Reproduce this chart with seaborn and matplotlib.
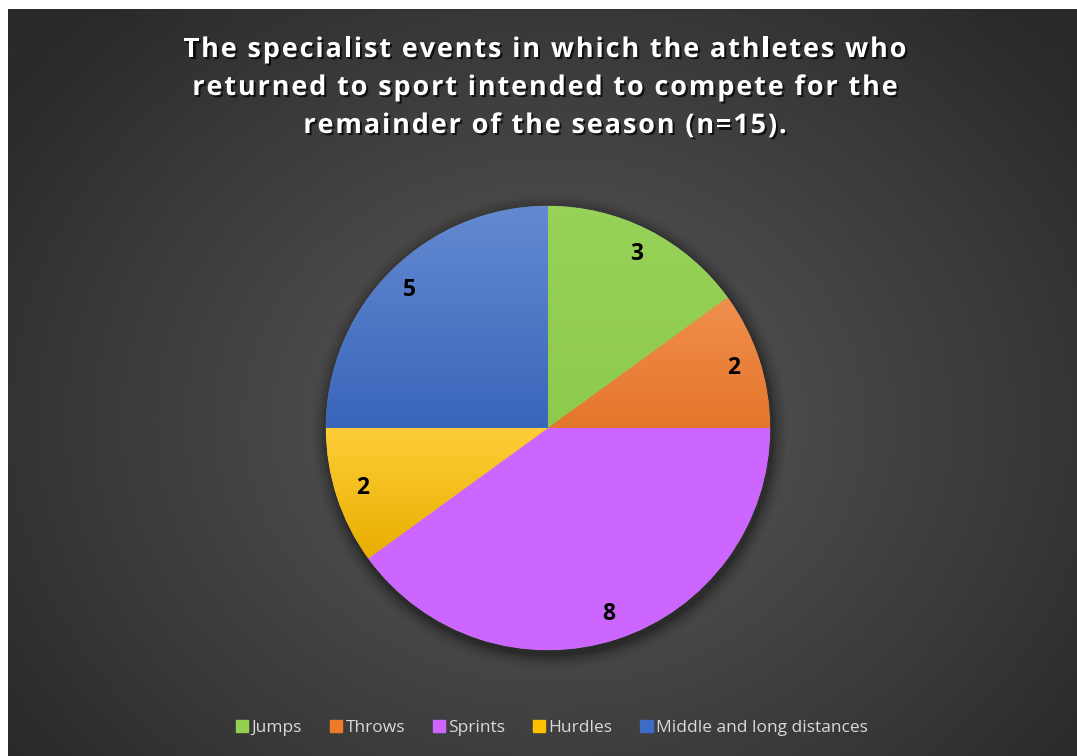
import numpy as np
import matplotlib
matplotlib.use("Agg")
import matplotlib.pyplot as plt
import matplotlib.patheffects as pe
from matplotlib.colors import to_rgb
from matplotlib.font_manager import FontProperties
from matplotlib.textpath import TextToPath
import seaborn as sns

# Specialist events and number of athletes per event
events = ["Jumps", "Throws", "Sprints", "Hurdles", "Middle and long distances"]
counts = [3, 2, 8, 2, 5]
title_lines = ["The specialist events in which the athletes who",
               "returned to sport intended to compete for the",
               "remainder of the season (n=15)."]

sns.set_style("white")
plt.rcParams["font.family"] = ["Open Sans", "DejaVu Sans"]

palette = sns.color_palette(["#92d050", "#ee7a2c", "#cc66ff", "#ffc000", "#3d6cc6"])
# per-slice gradient strength (lighter top, darker bottom)
grad_top = [0.05, 0.16, 0.0, 0.22, 0.20]
grad_bot = [0.03, 0.04, 0.0, 0.09, 0.06]

W, H = 1077, 756
DPI = 100
fig = plt.figure(figsize=(W / DPI, H / DPI), dpi=DPI)
fig.patch.set_facecolor("white")

# Dark panel with a radial gradient
bg = fig.add_axes([8 / W, 0, 1 - 8 / W, (H - 9) / H])
bg.set_axis_off()
ny, nx = 400, 560
yy, xx = np.mgrid[0:ny, 0:nx]
cx, cy = 0.51 * nx, 0.55 * ny
d = np.sqrt(((xx - cx) / (0.62 * nx)) ** 2 + ((yy - cy) / (0.75 * ny)) ** 2)
d = np.clip(d, 0, 1)
inner, outer = 0x58 / 255, 0x2a / 255
shade = inner + (outer - inner) * d ** 1.1
bg.imshow(np.dstack([shade, shade, shade]), extent=[0, 1, 0, 1], aspect="auto",
          origin="upper")
bg.set_xlim(0, 1)
bg.set_ylim(0, 1)

# Pie axes: centre at (548, 428) px, radius 222 px
cxp, cyp, r = 548, 428, 222
ax = fig.add_axes([(cxp - r) / W, (H - cyp - r) / H, 2 * r / W, 2 * r / H])
ax.set_axis_off()

# soft shadow under the pie
for k, a in enumerate(np.linspace(0.10, 0.015, 7)):
    ax.add_patch(plt.Circle((0.008, -0.018), 1.0 + 0.01 * (k + 1), color="black",
                            alpha=a, lw=0, zorder=0, clip_on=False))

total = sum(counts)
wedges, _, autotexts = ax.pie(
    counts, colors=palette, startangle=90, counterclock=False,
    autopct=lambda p: f"{round(p * total / 100):d}", pctdistance=0.88,
    wedgeprops=dict(linewidth=0.6, edgecolor=(1, 1, 1, 0.2)),
    textprops=dict(color="black", fontsize=16.5, fontweight="bold",
                   family=["Open Sans", "DejaVu Sans"]),
)

# vertical gradient inside each slice
for w, col, gt, gb in zip(wedges, palette, grad_top, grad_bot):
    base = np.array(to_rgb(col))
    top = base + (1 - base) * gt
    bot = base * (1 - gb)
    t = np.linspace(0, 1, 256)[:, None]
    grad = top[None, :] * (1 - t) + bot[None, :] * t
    grad = np.repeat(grad[:, None, :], 2, axis=1)
    bb = w.get_path().get_extents(w.get_patch_transform())
    im = ax.imshow(grad, extent=[bb.x0, bb.x1, bb.y0, bb.y1], origin="upper",
                   aspect="auto", zorder=1.5)
    im.set_clip_path(w)
for t in autotexts:
    t.set_zorder(3)

ax.set_xlim(-1, 1)
ax.set_ylim(-1, 1)

# Title with extra letter spacing, each line centred
tprop = FontProperties(family="Open Sans", weight="bold", size=19.5)
ttp = TextToPath()
px_per_pt = DPI / 72.0
tracking = 1.85  # px between characters
shadow = [pe.withSimplePatchShadow(offset=(1.5, -1.5), shadow_rgbFace="black",
                                   alpha=0.7)]
line_y = [47, 85, 123]
title_cx = 545
for line, ly in zip(title_lines, line_y):
    widths = []
    for ch in line:
        w_pt, _, _ = ttp.get_text_width_height_descent(ch, tprop, ismath=False)
        widths.append(w_pt * px_per_pt)
    total_w = sum(widths) + tracking * (len(line) - 1)
    x = title_cx - total_w / 2
    for ch, cw in zip(line, widths):
        if ch != " ":
            fig.text(x / W, 1 - ly / H, ch, ha="left", va="center_baseline",
                     color="white", fontproperties=tprop, path_effects=shadow)
        x += cw + tracking

# Legend
handles = [plt.Rectangle((0, 0), 1, 1, color=c) for c in palette]
leg = fig.legend(handles, events, loc="center", bbox_to_anchor=(552 / W, 1 - 728 / H),
                 ncol=5, frameon=False, fontsize=12.5, handlelength=0.7,
                 handleheight=0.7, handletextpad=0.2, columnspacing=1.6)
for t in leg.get_texts():
    t.set_color("#d9d9d9")

fig.savefig("out.png", dpi=DPI, facecolor=fig.get_facecolor())
